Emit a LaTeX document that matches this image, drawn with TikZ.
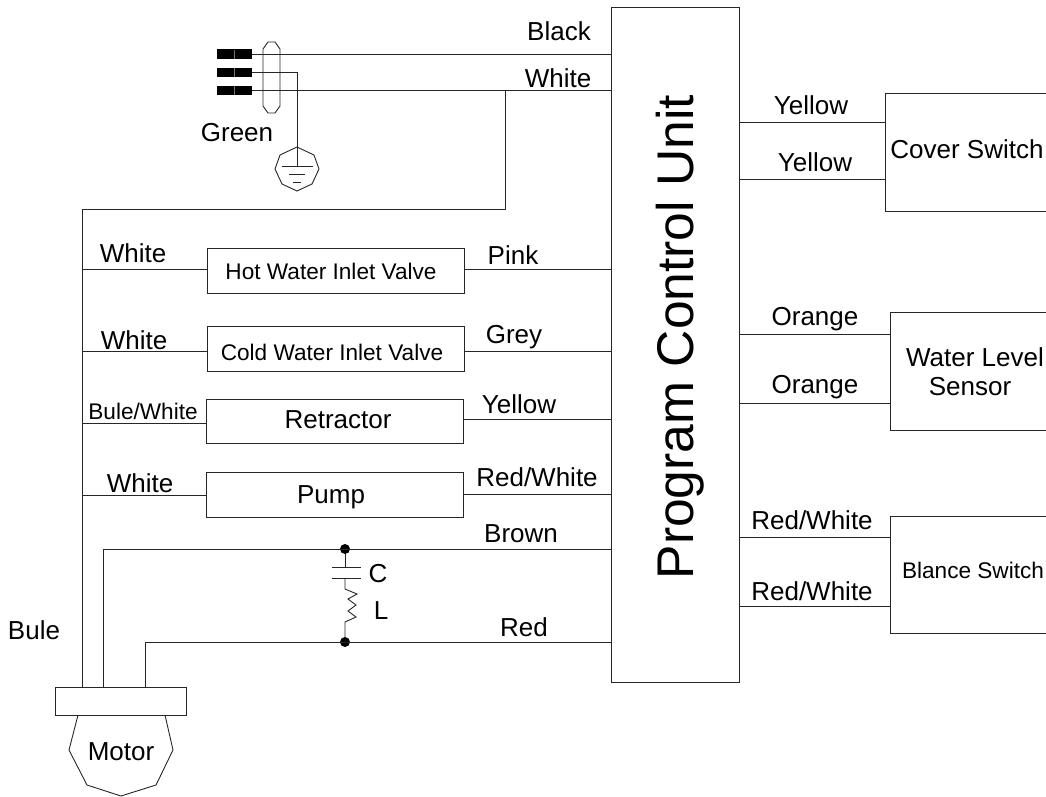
\documentclass[tikz,border=0pt]{standalone}
\usepackage{fontspec}
\setmainfont{Liberation Sans}
\tikzset{
  wire/.style={draw=black!85,line width=0.9pt},
  boxs/.style={draw=black!85,line width=0.9pt,fill=none,inner sep=0pt,outer sep=0pt,anchor=north west,align=center},
  ghost/.style={inner sep=0pt,outer sep=0pt,anchor=north west,align=center},
  lab/.style={inner sep=0pt,outer sep=0pt,font=\fontsize{26}{30}\selectfont},
  labs/.style={inner sep=0pt,outer sep=0pt,font=\fontsize{22.6}{26}\selectfont},
  plug/.style={draw=none,fill=black,inner sep=0pt,outer sep=0pt,minimum width=35pt,minimum height=9.5pt},
  joint/.style={circle,fill=black,inner sep=0pt,minimum size=10pt},
}
\begin{document}
\begin{tikzpicture}[x=1pt,y=-1pt]
\useasboundingbox (0,0) rectangle (1046,796);
% main unit
\node[boxs,minimum width=128pt,minimum height=675pt] (pcu) at (611,7) {};
\node[inner sep=0pt,rotate=90,font=\fontsize{51.6}{58}\selectfont] (pcut) at (680,337) {Program Control Unit};
% right-hand boxes, open at the page edge
\node[ghost,minimum width=161pt,minimum height=118pt] (cover) at (885,93) {};
\node[ghost,minimum width=156pt,minimum height=118pt] (water) at (890,312) {};
\node[ghost,minimum width=156pt,minimum height=117pt] (bal) at (890,516) {};
\draw[wire] (cover.north east)--(cover.north west)--(cover.south west)--(cover.south east);
\draw[wire] (water.north east)--(water.north west)--(water.south west)--(water.south east);
\draw[wire] (bal.north east)--(bal.north west)--(bal.south west)--(bal.south east);
\draw[wire] (pcu.east |- 0,122)--(cover.west |- 0,122);
\draw[wire] (pcu.east |- 0,179)--(cover.west |- 0,179);
\draw[wire] (pcu.east |- 0,334)--(water.west |- 0,334);
\draw[wire] (pcu.east |- 0,403)--(water.west |- 0,403);
\draw[wire] (pcu.east |- 0,537)--(bal.west |- 0,537);
\draw[wire] (pcu.east |- 0,606)--(bal.west |- 0,606);
% left-hand boxes
\node[boxs,minimum width=257pt,minimum height=45pt] (hot) at (207,248) {};
\node[boxs,minimum width=257pt,minimum height=45pt] (cold) at (207,326) {};
\node[boxs,minimum width=257pt,minimum height=44pt] (ret) at (206,399) {};
\node[boxs,minimum width=257pt,minimum height=45pt] (pump) at (206,472) {};
% motor
\node[boxs,minimum width=131pt,minimum height=28pt] (mconn) at (55,687) {};
\coordinate (m1) at (78,715);
\coordinate (m2) at (165,715);
\draw[wire] (m1)--(69,750)--(87,785)--(121,796)--(156,785)--(173,750)--(m2);
% plugs
\node[plug] (p1) at (234.5,54) {};
\node[plug] (p2) at (234.5,72.5) {};
\node[plug] (p3) at (234.5,90.5) {};
\draw[white!45!black,line width=0.3pt] (p1.center)--+(0,-4.5) (p1.center)--+(0,4.5) (p2.center)--+(0,-4.5) (p2.center)--+(0,4.5) (p3.center)--+(0,-4.5) (p3.center)--+(0,4.5);
% cable sleeve
\draw[wire] (263,49)--(268,42)--(275,42)--(280,49)--(280,106)--(275,113)--(268,113)--(263,106)--cycle;
% ground
\coordinate (g) at (297,147);
\coordinate (gb) at (297,166);
\draw[wire] (g)--(314,155)--(319,169)--(312,184)--(297,191)--(282,184)--(275,169)--(280,155)--cycle;
\draw[wire] (282,166)--(313,166) (289,174)--(305,174) (293,182)--(301,182);
% wires
\draw[wire] (p1.east)--(pcu.west |- p1);
\draw[wire] (p3.east)--(pcu.west |- p3);
\draw[wire] (p2.east)-|(gb);
\coordinate (w1) at (505,91);
\coordinate (w2) at (505,209);
\coordinate (w3) at (82,209);
\draw[wire] (w1)--(w2)--(w3)--(w3 |- mconn.north);
\draw[wire] (w3 |- 0,269)--(hot.west |- 0,269);
\draw[wire] (w3 |- 0,351)--(cold.west |- 0,351);
\draw[wire] (w3 |- 0,423)--(ret.west |- 0,423);
\draw[wire] (w3 |- 0,495)--(pump.west |- 0,495);
\draw[wire] (hot.east |- 0,269)--(pcu.west |- 0,269);
\draw[wire] (cold.east |- 0,351)--(pcu.west |- 0,351);
\draw[wire] (ret.east |- 0,419)--(pcu.west |- 0,419);
\draw[wire] (pump.east |- 0,494)--(pcu.west |- 0,494);
\node[joint] (j1) at (345,549) {};
\node[joint] (j2) at (345,642) {};
\coordinate (brn) at (103,549);
\coordinate (red) at (145,642);
\draw[wire] (brn |- mconn.north)--(brn)--(pcu.west |- brn);
\draw[wire] (red |- mconn.north)--(red)--(pcu.west |- red);
% capacitor and coil
\coordinate (c1) at (345,567);
\coordinate (c2) at (345,578);
\draw[wire] (j1)--(c1);
\draw[wire] (332,567)--(361,567) (332,578)--(361,578);
\draw[wire] (c2)--(345,589)--(357,594)--(348,599)--(356,605)--(348,611)--(356,617)--(345,622)--(j2);
% labels
\node[lab] (tBlack) at (559,31) {Black};
\node[lab] (tWhite0) at (558,78) {White};
\node[lab] (tY1) at (811,105) {Yellow};
\node[lab] (tY2) at (815,162) {Yellow};
\node[lab] (tCover) at (967,149) {Cover Switch};
\node[lab] (tO1) at (815,319) {Orange};
\node[lab] (tO2) at (815,387) {Orange};
\node[lab] (tW1) at (975,357) {Water Level};
\node[lab] (tW2) at (970,387) {Sensor};
\node[lab] (tR1) at (812,520) {Red/White};
\node[lab] (tR2) at (812,591) {Red/White};
\node[labs] (tBal) at (973,570) {Blance Switch};
\node[lab] (tGreen) at (237,133) {Green};
\node[lab] (tW3) at (133,253) {White};
\node[lab] (tPink) at (513,255) {Pink};
\node[labs] (tHot) at (331,271) {Hot Water Inlet Valve};
\node[lab] (tW4) at (134,340) {White};
\node[lab] (tGrey) at (514,337) {Grey};
\node[labs] (tCold) at (332,352) {Cold Water Inlet Valve};
\node[labs] (tBW) at (143,411) {Bule/White};
\node[lab] (tY3) at (519,404) {Yellow};
\node[lab] (tRet) at (338,420) {Retractor};
\node[lab] (tW5) at (140,483) {White};
\node[lab] (tRW) at (537,477) {Red/White};
\node[lab] (tPump) at (331,497) {Pump};
\node[lab] (tBrown) at (521,534) {Brown};
\node[lab] (tRed) at (524,627) {Red};
\node[lab] (tC) at (378,574) {C};
\node[lab] (tL) at (381,611) {L};
\node[lab] (tBule) at (34,630) {Bule};
\node[lab] (tMotor) at (121,752) {Motor};
\end{tikzpicture}
\end{document}
